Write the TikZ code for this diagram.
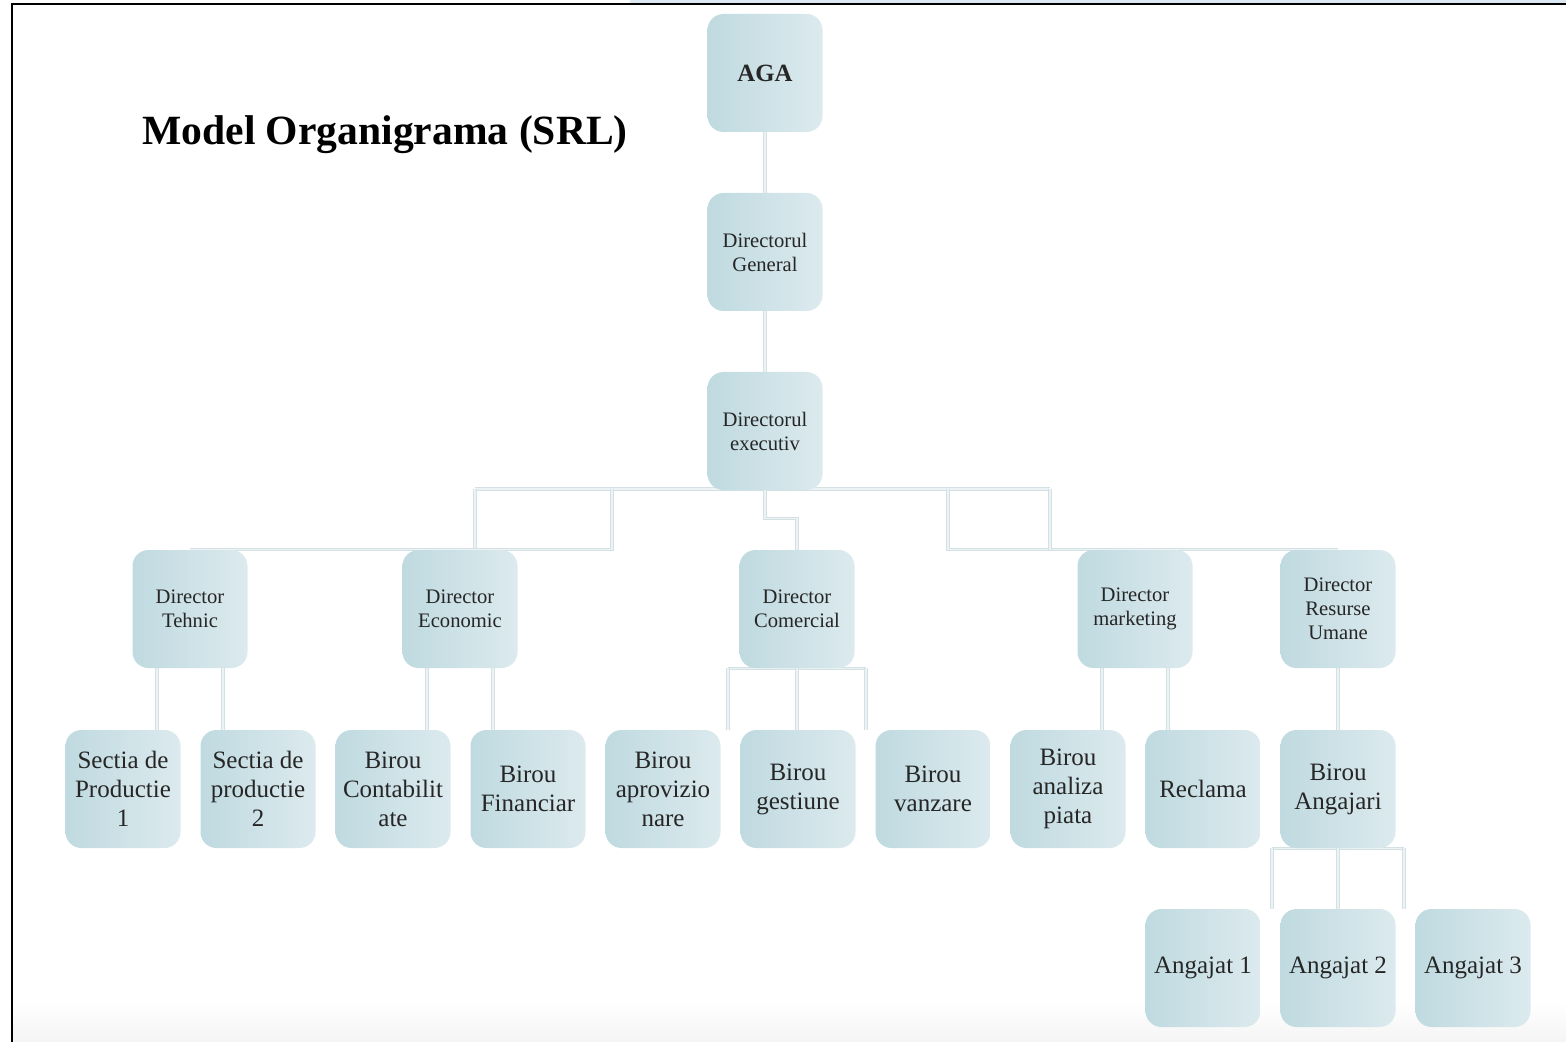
\documentclass[tikz,border=0pt]{standalone}
\usepackage{fontspec}
\setmainfont{Liberation Serif}
\usetikzlibrary{calc, backgrounds}

\definecolor{boxblue}{HTML}{BFDAE0}
\definecolor{boxpale}{HTML}{DCEAEE}
\definecolor{linkgray}{HTML}{D3E1E4}
\definecolor{bandblue}{HTML}{DCE9F5}

\begin{document}
\begin{tikzpicture}[x=0.5pt, y=-0.5pt,
  orgbox/.style={rounded corners=8pt, minimum width=57.5pt, minimum height=59pt, inner sep=1pt,
                 align=center, left color=boxblue, right color=boxpale, text=black!85},
  topbox/.style={orgbox, font=\fontsize{10.3}{12}\selectfont},
  lowbox/.style={orgbox, font=\fontsize{12.5}{14.5}\selectfont},
  link/.style={draw=linkgray, line width=0.5pt, double=white!60!linkgray, double distance=0.8pt}]

	\useasboundingbox (0,0) rectangle (1566,1042);

	% page frame
	\fill[bandblue] (630,0) rectangle (1566,3);
	\draw[line width=1pt] (12,1042) -- (12,4) -- (1566,4);

	\node[font=\fontsize{20.8}{25}\selectfont\bfseries] (title) at (385,135) {Model Organigrama (SRL)};

	% top of the chart
	\node[orgbox, font=\fontsize{12.4}{14}\selectfont\bfseries] (aga) at (765,73) {AGA};
	\node[topbox] (gen) at (765,252) {Directorul\\General};
	\node[topbox] (exe) at (765,431) {Directorul\\executiv};

	% directors
	\node[topbox] (tec) at (190,609) {Director\\Tehnic};
	\node[topbox] (eco) at (460,609) {Director\\Economic};
	\node[topbox] (com) at (797,609) {Director\\Comercial};
	\node[topbox] (mkt) at (1135,609) {Director\\marketing};
	\node[topbox] (hr) at (1338,609) {Director\\Resurse\\Umane};

	% offices
	\foreach \n/\x/\t in {s1/123/{Sectia de\\Productie\\1}, s2/258/{Sectia de\\productie\\2},
	                      b1/393/{Birou\\Contabilit\\ate}, b2/528/{Birou\\Financiar},
	                      b3/663/{Birou\\aprovizio\\nare}, b4/798/{Birou\\gestiune},
	                      b5/933/{Birou\\vanzare}, b6/1068/{Birou\\analiza\\piata},
	                      rec/1203/{Reclama}, ang/1338/{Birou\\Angajari}}
		\node[lowbox] (\n) at (\x,789) {\t};

	% employees
	\foreach \n/\k in {a1/1, a2/2, a3/3}
		\node[lowbox] (\n) at (1068+135*\k,968) {Angajat \k};

	\coordinate (jl1) at (475,489);
	\coordinate (jl2) at (612,489);
	\coordinate (jr1) at (948,489);
	\coordinate (jr2) at (1050,489);

	\begin{scope}[on background layer]
		\shade[top color=white, bottom color=black!4] (13,1000) rectangle (1566,1042);

		\draw[link] (aga) -- (gen);
		\draw[link] (gen) -- (exe);

		% executive to directors
		\draw[link] (jl1) -- (jr2);
		\draw[link] (jl1) -- (jl1 |- tec.north);
		\draw[link] (tec.north) -- (tec.north -| jl2) -- (jl2);
		\draw[link] (exe.south) -- ++(0,28) -| (com.north);
		\draw[link] (jr1) -- (jr1 |- hr.north) -- (hr.north);
		\draw[link] (jr2) -- (jr2 |- hr.north);

		% directors to offices
		\foreach \p/\c/\s in {tec/s1/-1, tec/s2/1, eco/b1/-1, eco/b2/1, mkt/b6/-1, mkt/rec/1}
			\draw[link] ($(\p.south)+(\s*33,0)$) coordinate (t) -- (t |- \c.north);

		\draw[link] ($(com.south)+(-69,0)$) -- ($(com.south)+(69,0)$);
		\foreach \c/\s in {b3/-1, b4/0, b5/1}
			\draw[link] ($(com.south)+(\s*69,0)$) coordinate (t) -- (t |- \c.north);

		\draw[link] (hr) -- (ang);

		% office to employees
		\draw[link] ($(ang.south)+(-66,0)$) -- ($(ang.south)+(66,0)$);
		\foreach \c/\s in {a1/-1, a2/0, a3/1}
			\draw[link] ($(ang.south)+(\s*66,0)$) coordinate (t) -- (t |- \c.north);
	\end{scope}

\end{tikzpicture}
\end{document}
